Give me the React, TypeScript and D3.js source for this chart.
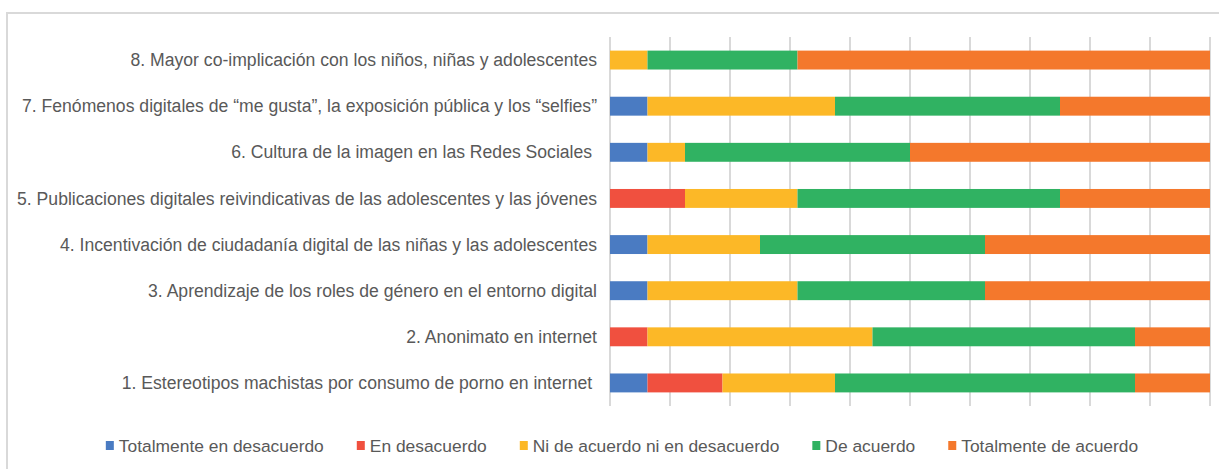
import React, { useEffect, useRef } from 'react';
import * as d3 from 'd3';

// categorias de abajo hacia arriba
const categories = [
  '1. Estereotipos machistas por consumo de porno en internet ',
  '2. Anonimato en internet',
  '3. Aprendizaje de los roles de género en el entorno digital',
  '4. Incentivación de ciudadanía digital de las niñas y las adolescentes',
  '5. Publicaciones digitales reivindicativas de las adolescentes y las jóvenes',
  '6. Cultura de la imagen en las Redes Sociales ',
  '7. Fenómenos digitales de “me gusta”, la exposición pública y los “selfies”',
  '8. Mayor co-implicación con los niños, niñas y adolescentes',
];

const seriesNames = [
  'Totalmente en desacuerdo',
  'En desacuerdo',
  'Ni de acuerdo ni en desacuerdo',
  'De acuerdo',
  'Totalmente de acuerdo',
];

const totalDesacuerdo = [1, 0, 1, 1, 0, 1, 1, 0];
const enDesacuerdo = [2, 1, 0, 0, 2, 0, 0, 0];
const neutral = [3, 6, 4, 3, 3, 1, 5, 1];
const deAcuerdo = [8, 7, 5, 6, 7, 6, 6, 4];
const totalAcuerdo = [2, 2, 6, 6, 4, 8, 4, 11];

const colors = ['#4a7bc2', '#f0503f', '#fcb827', '#30b262', '#f4782c'];

const W = 1219;
const H = 469;

export default function App() {
  const ref = useRef<SVGSVGElement>(null);

  useEffect(() => {
    const svg = d3.select(ref.current);
    svg.selectAll('*').remove();

    const values = [totalDesacuerdo, enDesacuerdo, neutral, deAcuerdo, totalAcuerdo];
    const rows = categories.map((c, i) => {
      const r: any = { cat: c };
      seriesNames.forEach((s, j) => (r[s] = values[j][i]));
      return r;
    });
    const stacked = d3.stack().keys(seriesNames).offset(d3.stackOffsetExpand)(rows);

    const margin = { top: 37, left: 610, right: 9, bottom: 63 };
    const x = d3.scaleLinear().domain([0, 1]).range([margin.left, W - margin.right]);
    const y = d3
      .scaleBand()
      .domain([...categories].reverse())
      .range([margin.top, H - margin.bottom])
      .paddingInner(0.59)
      .paddingOuter(0.295);

    // marco
    svg.append('path')
      .attr('d', `M7,${H} V13 H${W}`)
      .attr('fill', 'none')
      .attr('stroke', '#d9d9d9')
      .attr('stroke-width', 2);

    // lineas de cuadricula
    svg.append('g')
      .selectAll('line')
      .data(x.ticks(10))
      .enter()
      .append('line')
      .attr('x1', d => x(d))
      .attr('x2', d => x(d))
      .attr('y1', margin.top)
      .attr('y2', H - margin.bottom)
      .attr('stroke', '#d9d9d9')
      .attr('stroke-width', 2);

    svg.append('g')
      .selectAll('g')
      .data(stacked)
      .enter()
      .append('g')
      .attr('fill', (_, i) => colors[i])
      .selectAll('rect')
      .data(d => d)
      .enter()
      .append('rect')
      .attr('x', d => x(d[0]))
      .attr('width', d => x(d[1]) - x(d[0]))
      .attr('y', d => y((d.data as any).cat)!)
      .attr('height', y.bandwidth());

    const font = '"Liberation Sans", Arial, sans-serif';

    svg.append('g')
      .selectAll('text')
      .data(categories)
      .enter()
      .append('text')
      .attr('x', 597)
      .attr('y', d => y(d)! + y.bandwidth() / 2)
      .attr('dy', '0.35em')
      .attr('text-anchor', 'end')
      .attr('font-family', font)
      .attr('font-size', 17.6)
      .attr('fill', '#595959')
      .style('white-space', 'pre')
      .text(d => d);

    // leyenda
    const legend = svg.append('g');
    const items = legend
      .selectAll('g')
      .data(seriesNames)
      .enter()
      .append('g');
    items.append('rect')
      .attr('width', 8)
      .attr('height', 9)
      .attr('y', -5)
      .attr('fill', (_, i) => colors[i]);
    const texts = items.append('text')
      .attr('x', 13)
      .attr('dy', '0.35em')
      .attr('font-family', font)
      .attr('font-size', 17.4)
      .attr('fill', '#595959')
      .text(d => d);
    const widths = texts.nodes().map(n => 13 + (n as SVGTextElement).getComputedTextLength());
    const gap = 33;
    const total = d3.sum(widths) + gap * (widths.length - 1);
    let cx = 622 - total / 2;
    items.attr('transform', (_, i) => {
      const t = `translate(${cx},446)`;
      cx += widths[i] + gap;
      return t;
    });
  }, []);

  return (
    <svg
      ref={ref}
      width={W}
      height={H}
      style={{ position: 'absolute', left: 0, top: 0, background: '#fff' }}
    />
  );
}
